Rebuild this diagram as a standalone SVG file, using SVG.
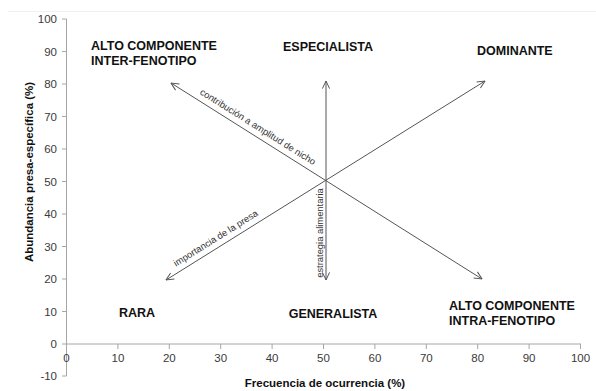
<svg xmlns="http://www.w3.org/2000/svg" width="596" height="391" viewBox="0 0 596 391">
<style>
.axis{stroke:#a6a6a6;stroke-width:1;fill:none}
.tick{font-family:"Liberation Sans",Arial,sans-serif;font-size:11.5px;fill:#3a3a3a}
.yt{text-anchor:end}
.xt{text-anchor:middle}
.quad{font-family:"Liberation Sans",Arial,sans-serif;font-size:12.5px;font-weight:bold;fill:#111}
.title{font-family:"Liberation Sans",Arial,sans-serif;font-weight:bold;fill:#111;font-size:11.5px;text-anchor:middle}
.lab{font-family:"Liberation Sans",Arial,sans-serif;font-size:9.4px;fill:#333;text-anchor:middle}
.conn{stroke:#555;stroke-width:1;fill:none;marker-start:url(#ah);marker-end:url(#ah)}
</style>
<defs>
<marker id="ah" viewBox="0 0 10 10" refX="9.5" refY="5" markerWidth="9" markerHeight="9" markerUnits="userSpaceOnUse" orient="auto-start-reverse">
<path d="M1,1 L9.5,5 L1,9" fill="none" stroke="#555" stroke-width="1.1"/>
</marker>
</defs>
<rect width="596" height="391" fill="#fff"/>
<line x1="8" y1="11.5" x2="596" y2="11.5" stroke="#f0f0f0" stroke-width="1"/>
<g id="axes">
<path class="axis" d="M66.5,19 V376 M62,19 H66.5 M62,51.5 H66.5 M62,84 H66.5 M62,116.5 H66.5 M62,149 H66.5 M62,181.5 H66.5 M62,214 H66.5 M62,246.5 H66.5 M62,279 H66.5 M62,311.5 H66.5 M62,344 H66.5 M62,376 H66.5"/>
<path class="axis" d="M66.5,344 H581 M66.5,344 V349 M117.9,344 V349 M169.3,344 V349 M220.7,344 V349 M272.1,344 V349 M323.5,344 V349 M374.9,344 V349 M426.3,344 V349 M477.7,344 V349 M529.1,344 V349 M580.5,344 V349"/>
<g class="tick yt">
<text x="57" y="23">100</text>
<text x="57" y="55.5">90</text>
<text x="57" y="88">80</text>
<text x="57" y="120.5">70</text>
<text x="57" y="153">60</text>
<text x="57" y="185.5">50</text>
<text x="57" y="218">40</text>
<text x="57" y="250.5">30</text>
<text x="57" y="283">20</text>
<text x="57" y="315.5">10</text>
<text x="57" y="348">0</text>
<text x="57" y="380">-10</text>
</g>
<g class="tick xt">
<text x="66.5" y="362">0</text>
<text x="117.9" y="362">10</text>
<text x="169.3" y="362">20</text>
<text x="220.7" y="362">30</text>
<text x="272.1" y="362">40</text>
<text x="323.5" y="362">50</text>
<text x="374.9" y="362">60</text>
<text x="426.3" y="362">70</text>
<text x="477.7" y="362">80</text>
<text x="529.1" y="362">90</text>
<text x="580.5" y="362">100</text>
</g>
<text class="title" x="325" y="387">Frecuencia de ocurrencia (%)</text>
<text class="title" transform="translate(32.5,172) rotate(-90)">Abundancia presa-específica (%)</text>
</g>
<g id="connectors">
<line class="conn" x1="171" y1="83" x2="482" y2="279"/>
<line class="conn" x1="166" y1="280" x2="485" y2="81"/>
<line class="conn" x1="326" y1="81" x2="326" y2="280"/>
<text class="lab" transform="translate(253,134.6) rotate(32.2)" y="-6">contribución a amplitud de nicho</text>
<text class="lab" transform="translate(220.5,246) rotate(-32)" y="-6">importancia de la presa</text>
<text class="lab" transform="translate(322.5,233) rotate(-90)">estrategia alimentaria</text>
</g>
<g id="alto-inter"><text class="quad" x="91" y="50">ALTO COMPONENTE</text><text class="quad" x="91" y="64.5">INTER-FENOTIPO</text></g>
<g id="especialista"><text class="quad" x="328" y="51" text-anchor="middle">ESPECIALISTA</text></g>
<g id="dominante"><text class="quad" x="477" y="55">DOMINANTE</text></g>
<g id="rara"><text class="quad" x="119" y="317">RARA</text></g>
<g id="generalista"><text class="quad" x="333" y="317.5" text-anchor="middle">GENERALISTA</text></g>
<g id="alto-intra"><text class="quad" x="449" y="310">ALTO COMPONENTE</text><text class="quad" x="449" y="325">INTRA-FENOTIPO</text></g>
</svg>
